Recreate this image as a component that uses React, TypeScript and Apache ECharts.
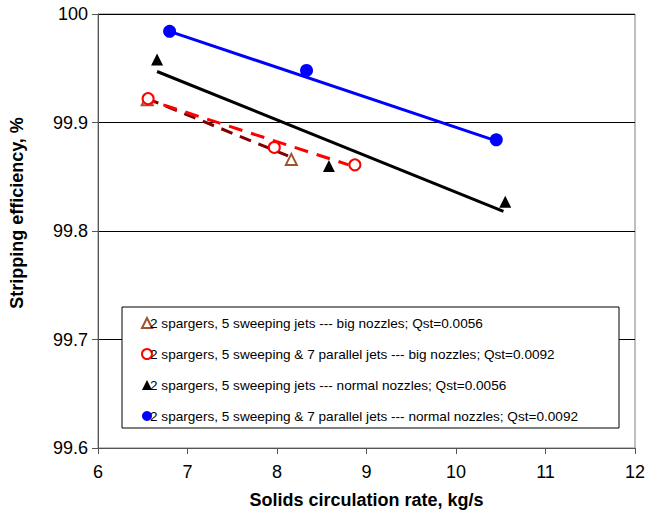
import React, { useEffect, useRef } from "react";
import * as echarts from "echarts";

const bigSweepX = [6.55, 8.16];
const bigSweepY = [99.921, 99.866];
const bigParX = [6.56, 7.97, 8.87];
const bigParY = [99.922, 99.877, 99.861];
const normSweepX = [6.66, 8.58, 10.55];
const normSweepY = [99.958, 99.860, 99.827];
const normParX = [6.8, 8.33, 10.45];
const normParY = [99.984, 99.948, 99.884];

// trend line endpoints
const bigSweepTrendX = [6.55, 8.16];
const bigSweepTrendY = [99.922, 99.868];
const bigParTrendX = [6.55, 8.8];
const bigParTrendY = [99.921, 99.861];
const normSweepTrendX = [6.66, 10.53];
const normSweepTrendY = [99.947, 99.818];
const normParTrendX = [6.8, 10.45];
const normParTrendY = [99.984, 99.883];

const names = [
  "2 spargers, 5 sweeping jets --- big nozzles; Qst=0.0056",
  "2 spargers, 5 sweeping & 7 parallel jets --- big nozzles; Qst=0.0092",
  "2 spargers, 5 sweeping jets --- normal nozzles; Qst=0.0056",
  "2 spargers, 5 sweeping & 7 parallel jets --- normal nozzles; Qst=0.0092",
];

const xTicks = [6, 7, 8, 9, 10, 11, 12];
const yTicks = [99.6, 99.7, 99.8, 99.9, 100];

const zip = (xs: number[], ys: number[]) => xs.map((x, i) => [x, ys[i]]);

const FONT = "'Liberation Sans', Arial, sans-serif";

export default function App() {
  const ref = useRef<HTMLDivElement>(null);
  useEffect(() => {
    const chart = echarts.init(ref.current!, null, { renderer: "svg" });
    chart.setOption({
      animation: false,
      backgroundColor: "#fff",
      textStyle: { fontFamily: FONT },
      grid: {
        left: 98,
        right: 10,
        top: 14,
        bottom: 63,
        containLabel: false,
        outerBoundsMode: "none",
        show: true,
        borderColor: "#808080",
        borderWidth: 1,
      },
      xAxis: {
        type: "value",
        min: xTicks[0],
        max: xTicks[xTicks.length - 1],
        interval: 1,
        name: "Solids circulation rate, kg/s",
        nameLocation: "middle",
        nameGap: 43,
        nameTextStyle: { fontSize: 18, fontWeight: "bold", color: "#000", fontFamily: FONT },
        axisLine: { show: true, lineStyle: { color: "#555", width: 1 } },
        axisTick: { show: true, inside: false, length: 6, lineStyle: { color: "#555" } },
        axisLabel: { fontSize: 18, color: "#000", margin: 15, fontFamily: FONT },
        splitLine: { show: false },
      },
      yAxis: {
        type: "value",
        min: yTicks[0],
        max: yTicks[yTicks.length - 1],
        interval: 0.1,
        name: "Stripping efficiency, %",
        nameLocation: "middle",
        nameGap: 72,
        nameTextStyle: {
          fontSize: 18,
          fontWeight: "bold",
          color: "#000",
          fontFamily: FONT,
          padding: [0, 0, 0, 36],
        },
        axisLine: { show: true, lineStyle: { color: "#555", width: 1 } },
        axisTick: { show: true, inside: false, length: 6, lineStyle: { color: "#555" } },
        axisLabel: {
          fontSize: 18,
          color: "#000",
          margin: 10,
          fontFamily: FONT,
          formatter: (v: number) => {
            const r = Math.round(v * 10) / 10;
            return r === 100 ? "100" : r.toFixed(1);
          },
        },
        splitLine: { show: true, lineStyle: { color: "#000", width: 1 } },
      },
      graphic: [
        {
          type: "rect",
          shape: { x: 122, y: 307, width: 497, height: 121 },
          style: { fill: "#fff", stroke: "#000", lineWidth: 1 },
          z: 50,
        },
      ],
      legend: {
        orient: "vertical",
        left: 136,
        top: 311,
        itemGap: 17,
        itemWidth: 10,
        itemHeight: 10,
        z: 60,
        textStyle: { fontSize: 13.6, color: "#000", fontFamily: FONT, padding: [0, 0, 0, -7] },
        data: names,
      },
      series: [
        {
          type: "line",
          data: zip(bigSweepTrendX, bigSweepTrendY),
          symbol: "none",
          lineStyle: { color: "#800000", width: 3, type: [12, 8] },
          silent: true,
          z: 2,
        },
        {
          type: "line",
          data: zip(bigParTrendX, bigParTrendY),
          symbol: "none",
          lineStyle: { color: "#ff0000", width: 3, type: [14, 9], dashOffset: 6 },
          silent: true,
          z: 3,
        },
        {
          type: "line",
          data: zip(normSweepTrendX, normSweepTrendY),
          symbol: "none",
          lineStyle: { color: "#000", width: 3 },
          silent: true,
          z: 2,
        },
        {
          type: "line",
          data: zip(normParTrendX, normParTrendY),
          symbol: "none",
          lineStyle: { color: "#0000ff", width: 3 },
          silent: true,
          z: 2,
        },
        {
          name: names[0],
          type: "scatter",
          data: zip(bigSweepX, bigSweepY),
          symbol: "emptyTriangle",
          symbolSize: 11,
          itemStyle: { color: "#a0522d", borderColor: "#a0522d", borderWidth: 1.5, opacity: 1 },
          z: 5,
        },
        {
          name: names[1],
          type: "scatter",
          data: zip(bigParX, bigParY),
          symbol: "emptyCircle",
          symbolSize: 11,
          itemStyle: { color: "#ff0000", borderColor: "#ff0000", borderWidth: 1.5, opacity: 1 },
          z: 5,
        },
        {
          name: names[2],
          type: "scatter",
          data: zip(normSweepX, normSweepY),
          symbol: "triangle",
          symbolSize: 12,
          itemStyle: { color: "#000", opacity: 1 },
          z: 5,
        },
        {
          name: names[3],
          type: "scatter",
          data: zip(normParX, normParY),
          symbol: "circle",
          symbolSize: 13,
          itemStyle: { color: "#0000ff", opacity: 1 },
          z: 5,
        },
      ],
    });
    return () => chart.dispose();
  }, []);
  return (
    <div
      ref={ref}
      style={{ position: "fixed", left: 0, top: 0, width: 645, height: 511 }}
    />
  );
}
